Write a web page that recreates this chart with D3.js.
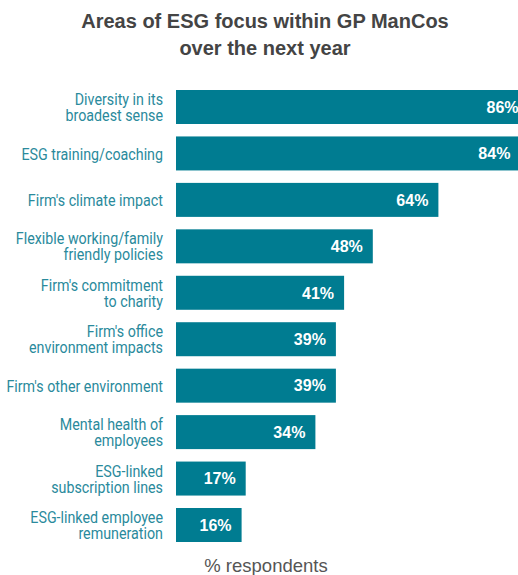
<!DOCTYPE html>
<html>
<head>
<meta charset="utf-8">
<script src="https://cdn.jsdelivr.net/npm/d3@7"></script>
<style>
  html, body { margin: 0; padding: 0; background: #fff; }
  svg { display: block; }
</style>
</head>
<body>
<svg id="chart" width="518" height="575"></svg>
<script>
// Survey answers, in display order (line breaks mark wrapped labels)
const categories = [
  "Diversity in its\nbroadest sense",
  "ESG training/coaching",
  "Firm's climate impact",
  "Flexible working/family\nfriendly policies",
  "Firm's commitment\nto charity",
  "Firm's office\nenvironment impacts",
  "Firm's other environment",
  "Mental health of\nemployees",
  "ESG-linked\nsubscription lines",
  "ESG-linked employee\nremuneration"
];
const shares = [86, 84, 64, 48, 41, 39, 39, 34, 17, 16];
const titleLines = ["Areas of ESG focus within GP ManCos", "over the next year"];
const axisTitle = "% respondents";

const barColor = "#007c91";
const labelColor = "#2a8a9c";
const sans = "'Liberation Sans', Arial, Helvetica, sans-serif";

const svg = d3.select("#chart");

const y = d3.scaleBand()
  .domain(categories)
  .range([90, 542])
  .paddingInner(0.268)
  .paddingOuter(0);

const x = d3.scaleLinear()
  .domain([0, 100])
  .range([176, 586]);

// Title
svg.append("text")
  .attr("x", 265)
  .attr("text-anchor", "middle")
  .attr("font-family", sans)
  .attr("font-weight", 700)
  .attr("font-size", 20)
  .attr("fill", "#444")
  .selectAll("tspan")
  .data(titleLines)
  .join("tspan")
  .attr("x", 265)
  .attr("y", (d, i) => 28 + i * 27)
  .text(d => d);

// Bars
svg.append("g")
  .selectAll("rect")
  .data(categories)
  .join("rect")
  .attr("x", x(0))
  .attr("y", d => y(d))
  .attr("width", (d, i) => x(shares[i]) - x(0))
  .attr("height", y.bandwidth())
  .attr("fill", barColor);

// Value labels inside bars
svg.append("g")
  .selectAll("text")
  .data(categories)
  .join("text")
  .attr("x", (d, i) => x(shares[i]) - 10)
  .attr("y", d => y(d) + y.bandwidth() / 2)
  .attr("dy", "0.36em")
  .attr("text-anchor", "end")
  .attr("font-family", sans)
  .attr("font-weight", 700)
  .attr("font-size", 16)
  .attr("fill", "#fff")
  .text((d, i) => shares[i] + "%");

// Category labels, narrowed horizontally
const lineGap = 16;
const labels = svg.append("g")
  .selectAll("g")
  .data(categories)
  .join("g")
  .attr("transform", d => `translate(163,${y(d) + y.bandwidth() / 2}) scale(0.84,1)`);

labels.append("text")
  .attr("text-anchor", "end")
  .attr("font-family", "Roboto, 'Noto Sans', sans-serif")
  .attr("font-size", 17)
  .attr("fill", labelColor)
  .each(function(d) {
    const lines = d.split("\n");
    const t = d3.select(this);
    const start = -(lines.length - 1) * lineGap / 2;
    lines.forEach((ln, i) => {
      t.append("tspan")
        .attr("x", 0)
        .attr("y", start + i * lineGap)
        .attr("dy", "0.36em")
        .text(ln);
    });
  });

// Axis caption
svg.append("text")
  .attr("x", 266)
  .attr("y", 572)
  .attr("text-anchor", "middle")
  .attr("font-family", sans)
  .attr("font-size", 18.5)
  .attr("fill", "#555")
  .text(axisTitle);
</script>
</body>
</html>
